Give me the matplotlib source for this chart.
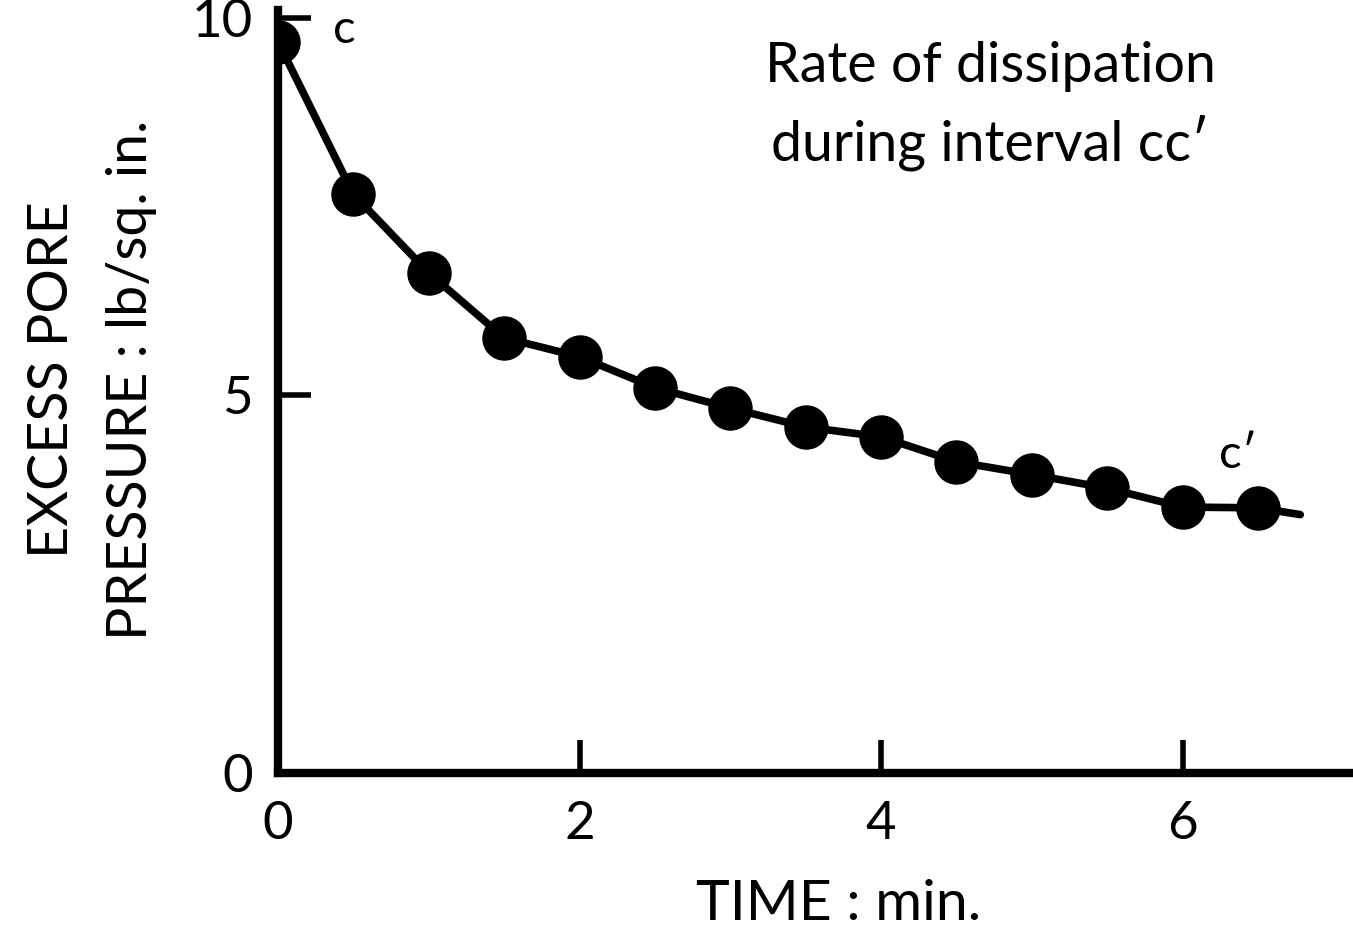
import matplotlib
matplotlib.use("Agg")
import matplotlib.pyplot as plt

plt.rcParams['font.family'] = ['Lato', 'DejaVu Sans']

# readings every half minute (interval c - c')
time_min = [0, 0.5, 1.0, 1.5, 2.0, 2.5, 3.0, 3.5, 4.0, 4.5, 5.0, 5.5, 6.0, 6.5]
pore_psi = [9.68, 7.66, 6.62, 5.76, 5.51, 5.10, 4.83, 4.58, 4.45, 4.12, 3.95, 3.77, 3.52, 3.51]

# fitted curve continues a bit past the last reading
curve_t = time_min + [6.78]
curve_p = pore_psi + [3.42]

x_ticks = [0, 2, 4, 6]
y_ticks = [0, 5, 10]

fig = plt.figure(figsize=(13.53, 9.33), dpi=100)
ax = fig.add_axes([0.2055, 0.1715, 0.7945, 0.8178])

ax.plot(curve_t, curve_p, color='black', lw=5.5, solid_capstyle='round', zorder=2)
ax.plot(time_min, pore_psi, 'o', color='black', ms=31, zorder=3)

ax.set_xlim(0, 7.13)
ax.set_ylim(0, 10.1)
ax.set_xticks(x_ticks)
ax.set_yticks(y_ticks)
ax.tick_params(direction='in', length=24, width=4, labelsize=38, color='black')
ax.tick_params(axis='x', pad=20)
ax.tick_params(axis='y', pad=18)

for side in ['top', 'right']:
    ax.spines[side].set_visible(False)
for side in ['left', 'bottom']:
    ax.spines[side].set_linewidth(6)

# axis titles placed as figure text, centred like the scan
fig.text(0.62, 1 - 905 / 933, 'TIME : min.', fontsize=41, ha='center', va='center')
fig.text(0.068, 1 - 380 / 933, 'EXCESS PORE\nPRESSURE : lb/sq. in.', fontsize=40,
         rotation=90, ha='center', va='center', linespacing=1.7, multialignment='center')

ax.text(0.44, 9.84, 'c', fontsize=34, ha='center', va='center')
ax.text(6.37, 4.21, "c\u2032", fontsize=34, ha='center', va='center')

fig.text(0.732, 1 - 106 / 933, 'Rate of dissipation\nduring interval cc\u2032', fontsize=40,
         ha='center', va='center', linespacing=1.5)

fig.savefig('out.png', dpi=100, facecolor='white')
